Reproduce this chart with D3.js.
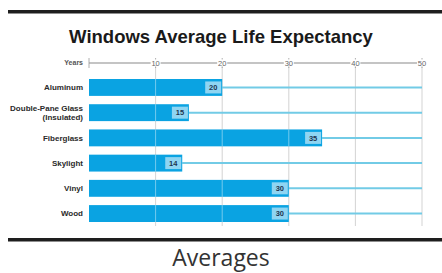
<!DOCTYPE html>
<html><head><meta charset="utf-8">
<script src="https://cdn.jsdelivr.net/npm/d3@7"></script>
<style>
html,body{margin:0;padding:0;background:#fff;}
svg{display:block;}
</style></head>
<body>
<svg id="c" width="442" height="273"></svg>
<script>
const categories = ["Aluminum", "Double-Pane Glass|(Insulated)", "Fiberglass", "Skylight", "Vinyl", "Wood"];
const values = [20, 15, 35, 14, 30, 30];
const tickValues = [0, 10, 20, 30, 40, 50];
const tickLabels = ["", "10", "20", "30", "40", "50"];
const title = "Windows Average Life Expectancy";
const caption = "Averages";

const svg = d3.select("#c");
const x = d3.scaleLinear().domain([0, 50]).range([89, 422]);
const y = d3.scaleBand().domain(categories).range([79, 222]).paddingInner(0.33).paddingOuter(0);
const FF = "Liberation Sans, Arial, sans-serif";

// frame bars
svg.append("rect").attr("x", 8).attr("y", 10).attr("width", 434).attr("height", 3.5).attr("fill", "#1e1e1e");
svg.append("rect").attr("x", 8).attr("y", 238).attr("width", 434).attr("height", 3.5).attr("fill", "#1e1e1e");

svg.append("text").attr("x", 221).attr("y", 43).attr("text-anchor", "middle")
  .attr("font-family", FF).attr("font-weight", "bold")
  .attr("font-size", 18.5).attr("fill", "#1a1a1a").text(title);

// gridlines
svg.append("g").selectAll("line").data(tickValues.slice(1)).join("line")
  .attr("x1", d => x(d)).attr("x2", d => x(d)).attr("y1", 63).attr("y2", 226)
  .attr("stroke", "#c8c8c8").attr("stroke-width", 0.8);

// axis
const axisY = 63;
svg.append("line").attr("x1", x(0)).attr("x2", x(50)).attr("y1", axisY).attr("y2", axisY)
  .attr("stroke", "#8a8a8a").attr("stroke-width", 1.2);
const tg = svg.append("g").selectAll("g").data(tickValues).join("g")
  .attr("transform", d => `translate(${x(d)},${axisY})`);
tg.append("line").attr("y1", -5).attr("y2", 5).attr("stroke", "#999").attr("stroke-width", 0.8);
tg.filter((d, i) => tickLabels[i] !== "").append("rect")
  .attr("x", -5).attr("y", -3.5).attr("width", 10).attr("height", 7).attr("fill", "#fff");
tg.append("text").attr("text-anchor", "middle").attr("dy", "0.35em")
  .attr("font-family", FF).attr("font-size", 7.5).attr("fill", "#666")
  .text((d, i) => tickLabels[i]);
svg.append("text").attr("x", 83).attr("y", axisY).attr("dy", "0.35em").attr("text-anchor", "end")
  .attr("font-family", FF).attr("font-weight", "bold")
  .attr("font-size", 7).attr("fill", "#555").text("Years");

// tracks
const rows = svg.append("g").selectAll("g").data(categories).join("g");
rows.append("line")
  .attr("x1", (d, i) => x(values[i])).attr("x2", x(50))
  .attr("y1", d => y(d) + y.bandwidth() / 2).attr("y2", d => y(d) + y.bandwidth() / 2)
  .attr("stroke", "#72cbe6").attr("stroke-width", 2);
rows.append("rect")
  .attr("x", x(0)).attr("y", d => y(d))
  .attr("width", (d, i) => x(values[i]) - x(0)).attr("height", y.bandwidth())
  .attr("fill", "#0aa3e2");
// white grid inside bars
rows.each(function(d, i) {
  const g = d3.select(this);
  tickValues.slice(1).filter(t => t < values[i]).forEach(t => {
    g.append("line").attr("x1", x(t)).attr("x2", x(t)).attr("y1", y(d)).attr("y2", y(d) + y.bandwidth())
      .attr("stroke", "#ffffff").attr("stroke-opacity", 0.55).attr("stroke-width", 0.8);
  });
});
// value labels
rows.append("rect")
  .attr("x", (d, i) => x(values[i]) - 17).attr("y", d => y(d) + y.bandwidth() / 2 - 6)
  .attr("width", 16).attr("height", 12).attr("fill", "#8fd5f2");
rows.append("text")
  .attr("x", (d, i) => x(values[i]) - 9).attr("y", d => y(d) + y.bandwidth() / 2).attr("dy", "0.35em")
  .attr("text-anchor", "middle").attr("font-family", FF)
  .attr("font-weight", "bold").attr("font-size", 7.5).attr("fill", "#1d3550")
  .text((d, i) => values[i]);
// category labels
rows.each(function(d) {
  const parts = d.split("|");
  const t = d3.select(this).append("text").attr("text-anchor", "end")
    .attr("font-family", FF).attr("font-weight", "bold")
    .attr("font-size", 8).attr("fill", "#2a2a2a");
  const cy = y(d) + y.bandwidth() / 2;
  const start = cy - (parts.length - 1) * 4.3;
  parts.forEach((p, k) => {
    t.append("tspan").attr("x", 83).attr("y", start + k * 8.6).attr("dy", "0.35em").text(p);
  });
});

svg.append("text").attr("x", 221).attr("y", 265.5).attr("text-anchor", "middle")
  .attr("font-family", "Open Sans, sans-serif").attr("font-size", 23).attr("fill", "#333")
  .text(caption);
</script>
</body></html>
